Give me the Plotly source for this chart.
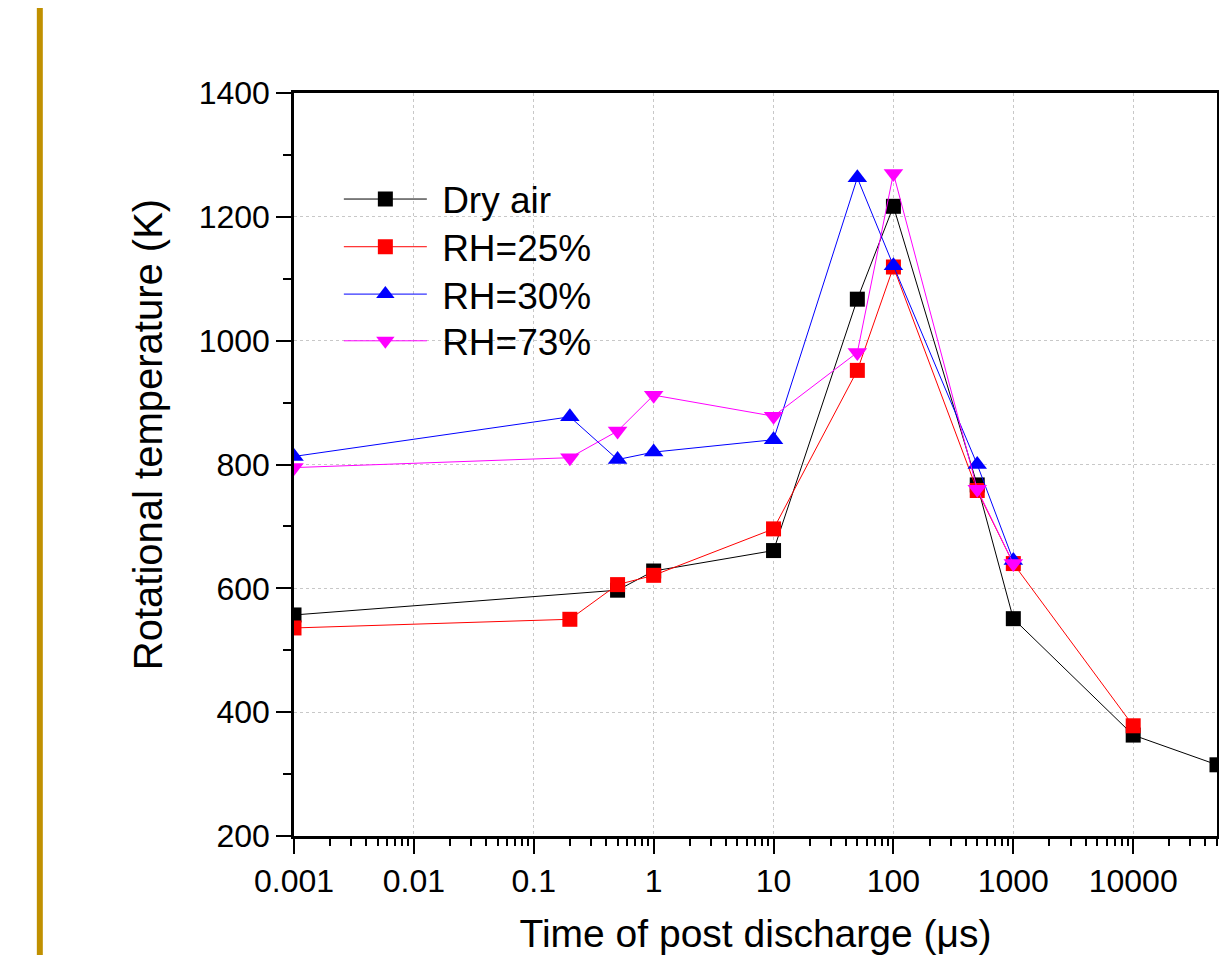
import plotly.graph_objects as go

# ---- data ----
dry_x = [0.001, 0.5, 1, 10, 50, 100, 500, 1000, 10000, 50000]
dry_y = [557, 597, 628, 661, 1067, 1217, 767, 551, 363, 315]

rh25_x = [0.001, 0.2, 0.5, 1, 10, 50, 100, 500, 1000, 10000]
rh25_y = [536, 550, 606, 621, 696, 952, 1119, 758, 640, 378]

rh30_x = [0.001, 0.2, 0.5, 1, 10, 50, 100, 500, 1000]
rh30_y = [813, 877, 808, 820, 840, 1263, 1121, 800, 645]

rh73_x = [0.001, 0.2, 0.5, 1, 10, 50, 100, 500, 1000]
rh73_y = [795, 811, 854, 912, 878, 981, 1270, 760, 640]

series_names = ["Dry air", "RH=25%", "RH=30%", "RH=73%"]

x_tickvals = [0.001, 0.01, 0.1, 1, 10, 100, 1000, 10000]
x_ticktext = ["0.001", "0.01", "0.1", "1", "10", "100", "1000", "10000"]

FONT = "Arial, Liberation Sans, sans-serif"

# page layout (the html body adds an 8 px margin)
PLOT_L, PLOT_R, PLOT_T, PLOT_B = 294, 1220, 93, 841
PW, PH = PLOT_R - PLOT_L, PLOT_B - PLOT_T


def px_x(p):
    return (p - PLOT_L) / PW


def px_y(p):
    return (PLOT_B - p) / PH


styles = [("black", "square"), ("red", "square"),
          ("blue", "triangle-up"), ("magenta", "triangle-down")]
data = [(dry_x, dry_y), (rh25_x, rh25_y), (rh30_x, rh30_y), (rh73_x, rh73_y)]
legend_rows = [200, 248, 295.7, 342.7]

fig = go.Figure()
layout_legends = {}
for i, (name, (xs, ys), (color, sym)) in enumerate(zip(series_names, data, styles)):
    lname = "legend" if i == 0 else f"legend{i + 1}"
    fig.add_trace(go.Scatter(
        x=xs, y=ys, name="\u00a0" + name, mode="lines+markers",
        line=dict(color=color, width=1),
        marker=dict(symbol=sym, color=color, size=15 if sym == "square" else 17),
        legend=lname,
    ))
    layout_legends[lname] = dict(
        x=px_x(339), y=px_y(legend_rows[i] - 31),
        xanchor="left", yanchor="top",
        bgcolor="rgba(0,0,0,0)", borderwidth=0, itemwidth=83,
        font=dict(family=FONT, size=37, color="black"),
    )

minor_x = [m * 10.0 ** e for e in range(-3, 5) for m in range(2, 10)]

fig.update_xaxes(
    type="log", range=[-3, 4.69897],
    tickvals=x_tickvals, ticktext=x_ticktext,
    ticks="outside", ticklen=15, tickwidth=2, tickcolor="black",
    showline=True, linecolor="black", linewidth=2.5, mirror=True,
    showgrid=True, gridcolor="#c8c8c8", gridwidth=1, griddash="dot",
    zeroline=False,
    tickfont=dict(family=FONT, size=32, color="black"),
    minor=dict(tickvals=minor_x, ticks="outside", ticklen=7, tickwidth=2,
               tickcolor="black", showgrid=False),
    title=dict(text="Time of post discharge (μs)",
               font=dict(family=FONT, size=39, color="black"), standoff=22),
)
fig.update_yaxes(
    range=[200, 1400], dtick=200, tick0=200,
    ticks="outside", ticklen=15, tickwidth=2, tickcolor="black",
    showline=True, linecolor="black", linewidth=2.5, mirror=True,
    showgrid=True, gridcolor="#c8c8c8", gridwidth=1, griddash="dot",
    zeroline=False,
    tickfont=dict(family=FONT, size=32, color="black"),
    minor=dict(dtick=100, ticks="outside", ticklen=8, tickwidth=2,
               tickcolor="black", showgrid=False),
)

fig.update_layout(
    width=1219, height=947,
    margin=dict(l=PLOT_L - 8, r=1227 - PLOT_R, t=PLOT_T - 8, b=955 - PLOT_B),
    plot_bgcolor="white", paper_bgcolor="white",
    showlegend=True,
    annotations=[dict(text="Rotational temperature (K)", textangle=-90,
                      xref="paper", yref="paper", x=px_x(147), y=px_y(437),
                      xanchor="center", yanchor="middle", showarrow=False,
                      font=dict(family=FONT, size=40, color="black"))],
    shapes=[dict(type="rect", xref="paper", yref="paper",
                 x0=px_x(36), x1=px_x(42), y0=-0.2, y1=1.2,
                 fillcolor="#C09000", line=dict(width=0), layer="above")],
    **layout_legends,
)

fig.write_html("out.html")
